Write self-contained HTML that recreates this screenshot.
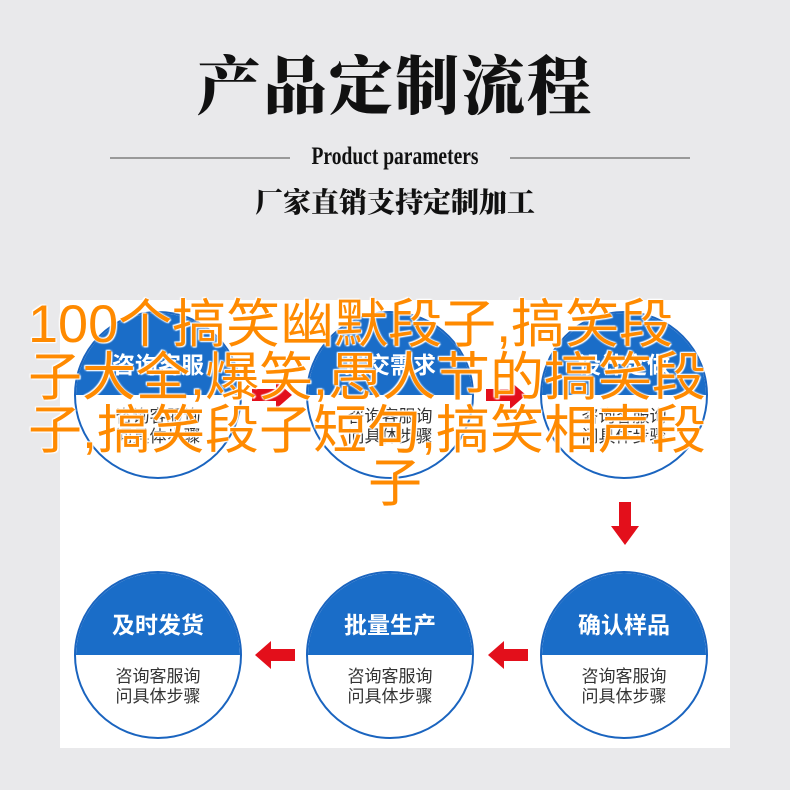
<!DOCTYPE html>
<html><head><meta charset="utf-8"><style>
body{margin:0;width:790px;height:790px;background:#e9e9eb;position:relative;overflow:hidden;font-family:"Liberation Sans","Noto Sans CJK SC",sans-serif}
.a{position:absolute}
.title{left:0;width:790px;top:48px;text-align:center;font-family:"Liberation Serif","Noto Serif CJK SC",serif;font-weight:900;font-size:64px;color:#111;letter-spacing:2px;line-height:80px}
.line{height:2px;background:#999;top:157px}
.pp{left:0;width:790px;top:143px;text-align:center;font-family:"Liberation Serif",serif;font-weight:bold;font-size:25px;color:#111;transform:scaleX(.78)}
.sub{left:0;width:790px;top:186px;text-align:center;font-family:"Liberation Serif","Noto Serif CJK SC",serif;font-weight:900;font-size:28px;color:#111;line-height:36px}
.panel{left:60px;top:300px;width:670px;height:448px;background:#fff}
.c{width:168px;height:168px;border-radius:50%;border:2px solid #1a64bf;overflow:hidden;background:#fff;box-sizing:border-box}
.c .top{height:50%;background:#1a6dc8;color:#fff;font-weight:bold;font-size:23px;text-align:center;box-sizing:border-box;padding-top:38px;line-height:28px}
.c .bot{text-align:center;color:#333;font-size:17px;line-height:20px;padding-top:12px}
.ot{left:28px;font-size:50px;line-height:53px;color:#ff8a00;white-space:nowrap;transform-origin:0 50%;transform:scale(1.08,1.05);text-shadow:0 0 2px #fff,0 0 2px #fff,1px 1px 1px #fff,-1px -1px 1px #fff}
</style></head><body>
<div class="a title">产品定制流程</div>
<div class="a line" style="left:110px;width:180px"></div>
<div class="a line" style="left:510px;width:180px"></div>
<div class="a pp">Product parameters</div>
<div class="a sub">厂家直销支持定制加工</div>
<div class="a panel"></div>

<div class="a c" style="left:74px;top:311px"><div class="top">咨询客服</div><div class="bot">咨询客服询<br>问具体步骤</div></div>
<div class="a c" style="left:306px;top:311px"><div class="top">提交需求</div><div class="bot">咨询客服询<br>问具体步骤</div></div>
<div class="a c" style="left:540px;top:311px"><div class="top">设计定做</div><div class="bot">咨询客服询<br>问具体步骤</div></div>
<div class="a c" style="left:74px;top:571px"><div class="top">及时发货</div><div class="bot">咨询客服询<br>问具体步骤</div></div>
<div class="a c" style="left:306px;top:571px"><div class="top">批量生产</div><div class="bot">咨询客服询<br>问具体步骤</div></div>
<div class="a c" style="left:540px;top:571px"><div class="top">确认样品</div><div class="bot">咨询客服询<br>问具体步骤</div></div>

<svg class="a" style="left:0;top:0" width="790" height="790">
<g fill="#e30f1b">
<polygon points="252,389 276,389 276,381 292,395 276,409 276,401 252,401"/>
<polygon points="486,389 510,389 510,381 526,395 510,409 510,401 486,401"/>
<polygon points="295,649 271,649 271,641 255,655 271,669 271,661 295,661"/>
<polygon points="528,649 504,649 504,641 488,655 504,669 504,661 528,661"/>
<polygon points="619,502 631,502 631,526 639,526 625,545 611,526 619,526"/>
</g></svg>

<div class="a ot" style="top:298px">100个搞笑幽默段子,搞笑段</div>
<div class="a ot" style="top:351px">子大全,爆笑,愚人节的搞笑段</div>
<div class="a ot" style="top:404px">子,搞笑段子短句,搞笑相声段</div>
<div class="a ot" style="top:457px;left:368px">子</div>
</body></html>
